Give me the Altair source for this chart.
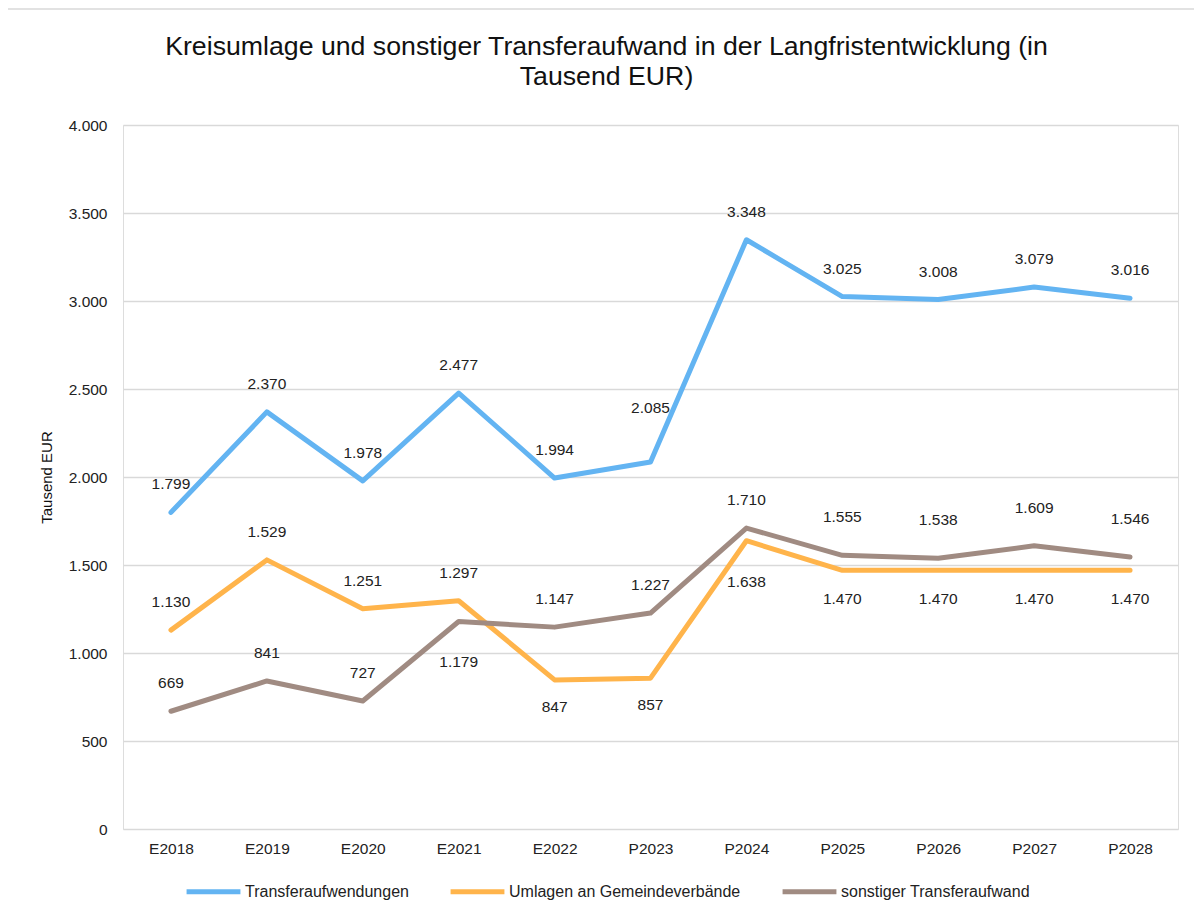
import altair as alt
import pandas as pd

categories = ["E2018", "E2019", "E2020", "E2021", "E2022", "P2023",
              "P2024", "P2025", "P2026", "P2027", "P2028"]
transfer = [1799, 2370, 1978, 2477, 1994, 2085, 3348, 3025, 3008, 3079, 3016]
umlagen = [1130, 1529, 1251, 1297, 847, 857, 1638, 1470, 1470, 1470, 1470]
sonstiger = [669, 841, 727, 1179, 1147, 1227, 1710, 1555, 1538, 1609, 1546]

series_names = ["Transferaufwendungen", "Umlagen an Gemeindeverbände",
                "sonstiger Transferaufwand"]
series_colors = ["#63B4F2", "#FFB44B", "#A08B82"]

# label placement style (pixel offset of each data label from its point)
label_offset_default = -28
label_offsets = {
    ("Transferaufwendungen", "P2023"): -54,
    ("Umlagen an Gemeindeverbände", "E2022"): 27,
    ("Umlagen an Gemeindeverbände", "P2023"): 27,
    ("Umlagen an Gemeindeverbände", "P2024"): 41,
    ("Umlagen an Gemeindeverbände", "P2025"): 29,
    ("Umlagen an Gemeindeverbände", "P2026"): 29,
    ("Umlagen an Gemeindeverbände", "P2027"): 29,
    ("Umlagen an Gemeindeverbände", "P2028"): 29,
    ("sonstiger Transferaufwand", "E2021"): 41,
    ("sonstiger Transferaufwand", "P2025"): -38,
    ("sonstiger Transferaufwand", "P2026"): -38,
    ("sonstiger Transferaufwand", "P2027"): -38,
    ("sonstiger Transferaufwand", "P2028"): -38,
}

rows = []
for name, vals in zip(series_names, [transfer, umlagen, sonstiger]):
    for cat, v in zip(categories, vals):
        rows.append({"Jahr": cat, "Serie": name, "Wert": v})
df = pd.DataFrame(rows)

FONT = "Liberation Sans"
FS = 15.5

x = alt.X("Jahr:N", sort=categories, title=None,
          scale=alt.Scale(type="point", padding=0.5),
          axis=alt.Axis(labelAngle=0, ticks=False, domain=False, grid=False,
                        labelPadding=12, labelFontSize=FS, labelColor="#222222",
                        labelFont=FONT))
y = alt.Y("Wert:Q", title="Tausend EUR",
          scale=alt.Scale(domain=[0, 4000]),
          axis=alt.Axis(values=[0, 500, 1000, 1500, 2000, 2500, 3000, 3500, 4000],
                        labelExpr="replace(format(datum.value, ','), ',', '.')",
                        ticks=False, domain=False, gridColor="#D9D9D9",
                        gridWidth=1.5, labelPadding=16, labelFontSize=FS,
                        labelColor="#222222", labelFont=FONT,
                        titleFont=FONT, titleFontSize=15, titleFontWeight="normal",
                        titleColor="#111111", titlePadding=14))
color = alt.Color("Serie:N",
                  scale=alt.Scale(domain=series_names, range=series_colors),
                  legend=alt.Legend(title=None, orient="none", direction="horizontal",
                                    legendX=61, legendY=737,
                                    symbolType="stroke", symbolStrokeWidth=5,
                                    symbolSize=2900, labelFontSize=16, labelFont=FONT,
                                    labelColor="#222222", columnPadding=31,
                                    labelOffset=2, labelLimit=400))

base = alt.Chart(df)

lines = base.mark_line(strokeWidth=5, strokeCap="round", strokeJoin="round").encode(
    x=x, y=y, color=color, detail="Serie:N")

label_calc = "replace(format(datum.Wert, ','), ',', '.')"
offset_values = sorted(set(label_offsets.values()) | {label_offset_default})
text_layers = []
for off in offset_values:
    keys = [f"{s}|{c}" for (s, c), o in label_offsets.items() if o == off]
    if off == label_offset_default:
        keys_all = [f"{s}|{c}" for (s, c) in label_offsets]
        flt = {"not": alt.FieldOneOfPredicate(field="key", oneOf=keys_all).to_dict()}
    else:
        flt = alt.FieldOneOfPredicate(field="key", oneOf=keys)
    layer = base.transform_calculate(
        key="datum.Serie + '|' + datum.Jahr", txt=label_calc
    ).transform_filter(flt).mark_text(
        dy=off, fontSize=FS, font=FONT, color="#222222").encode(
        x=x, y=y, text="txt:N")
    text_layers.append(layer)

frame = alt.Chart(pd.DataFrame({"a": [0]})).mark_rect(
    fill=None, stroke="#D9D9D9", strokeWidth=1.5, clip=False).encode(
    x=alt.value(-116), x2=alt.value(1090), y=alt.value(-116), y2=alt.value(800))

chart = alt.layer(frame, lines, *text_layers).properties(
    width=1055, height=704,
    title=alt.Title(
        ["Kreisumlage und sonstiger Transferaufwand in der Langfristentwicklung (in",
         "Tausend EUR)"],
        font=FONT, fontSize=26.7, fontWeight="normal", color="#111111",
        anchor="middle", dx=-44, offset=-82, lineHeight=30),
    padding={"left": 115, "top": 117, "right": 16, "bottom": 75},
    autosize=alt.AutoSizeParams(type="none"),
).configure_view(stroke=None).configure(background="white")

chart.save("out.html", embed_options={"renderer": "svg", "actions": False})
